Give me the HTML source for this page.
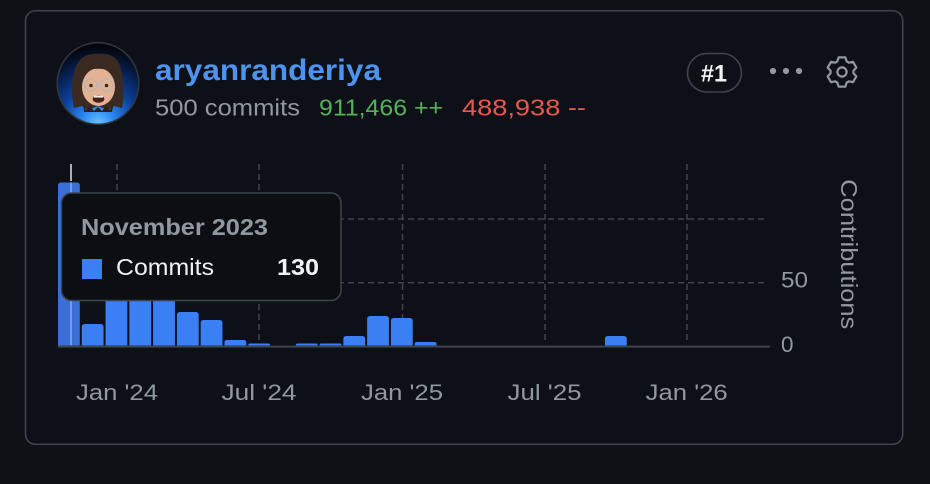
<!DOCTYPE html>
<html>
<head>
<meta charset="utf-8">
<style>
  html,body{margin:0;padding:0;background:#0e1116;}
  svg{display:block;}
  text{font-family:"Liberation Sans", "DejaVu Sans", sans-serif;}
</style>
</head>
<body>
<svg width="930" height="484" viewBox="0 0 930 484" xmlns="http://www.w3.org/2000/svg">
  <defs>
    <radialGradient id="av" cx="0.5" cy="1.0" r="0.95">
      <stop offset="0" stop-color="#6cc4ff"/>
      <stop offset="0.22" stop-color="#2a86f0"/>
      <stop offset="0.5" stop-color="#0d3f9a"/>
      <stop offset="0.8" stop-color="#061a44"/>
      <stop offset="1" stop-color="#03060e"/>
    </radialGradient>
    <clipPath id="avc"><circle cx="98" cy="83.5" r="40"/></clipPath>
  </defs>

  <rect x="0" y="0" width="930" height="484" fill="#0e1116"/>
  <!-- card -->
  <rect x="25.5" y="10.75" width="877.2" height="433.5" rx="10" fill="#0d1117" stroke="#3d444d" stroke-width="1.6"/>

  <!-- avatar -->
  <circle cx="98" cy="83.5" r="40.5" fill="url(#av)"/>
  <g clip-path="url(#avc)">
    <path d="M74 108 C70 90 72 66 82 58 C90 52 108 52 115 58 C124 66 125 90 122 108 L114 106 L108 110 L98 106 L88 110 L82 106 Z" fill="#3a2a22"/>
    <ellipse cx="98.5" cy="87" rx="16.5" ry="19" fill="#e2b293"/>
    <path d="M80 74 C84 62 112 60 117 74 C110 68 90 66 80 74 Z" fill="#3a2a22"/>
    <path d="M83 102 L86 110 L90 106 L94 111 L98 107 L102 111 L106 106 L110 110 L114 102 L112 112 L84 112 Z" fill="#2e2019"/>
    <circle cx="91" cy="85" r="6.2" fill="none" stroke="#bfb6ad" stroke-width="1.6"/>
    <circle cx="106.5" cy="85" r="6.2" fill="none" stroke="#bfb6ad" stroke-width="1.6"/>
    <line x1="97.2" y1="85" x2="100.3" y2="85" stroke="#bfb6ad" stroke-width="1.4"/>
    <circle cx="91" cy="85.5" r="1.8" fill="#3a2a22"/>
    <circle cx="106.5" cy="85.5" r="1.8" fill="#3a2a22"/>
    <ellipse cx="98.5" cy="99" rx="5.8" ry="3.8" fill="#4a1d18"/>
    <rect x="94" y="95.6" width="9" height="2" fill="#f3ece6"/>
  </g>
  <circle cx="98" cy="83.5" r="40.8" fill="none" stroke="#30363d" stroke-width="1.6"/>

  <!-- header text -->
  <text x="155" y="80" font-size="30" font-weight="bold" fill="#4d94f0" textLength="226" lengthAdjust="spacingAndGlyphs">aryanranderiya</text>
  <text x="155" y="115.5" font-size="23" fill="#9198a1" textLength="145" lengthAdjust="spacingAndGlyphs">500 commits</text>
  <text x="319" y="115.5" font-size="23" fill="#57b05c" textLength="124" lengthAdjust="spacingAndGlyphs">911,466 ++</text>
  <text x="462" y="115.5" font-size="23" fill="#e5594e" textLength="124" lengthAdjust="spacingAndGlyphs">488,938 --</text>

  <!-- pill -->
  <rect x="687.5" y="53.5" width="54" height="38.5" rx="19.25" fill="none" stroke="#3d444d" stroke-width="1.6"/>
  <text x="714" y="81.5" font-size="24" font-weight="bold" fill="#f0f3f6" text-anchor="middle" textLength="26" lengthAdjust="spacingAndGlyphs">#1</text>

  <!-- dots -->
  <circle cx="773" cy="71" r="3.1" fill="#9198a1"/>
  <circle cx="786" cy="71" r="3.1" fill="#9198a1"/>
  <circle cx="799" cy="71" r="3.1" fill="#9198a1"/>

  <!-- gear -->
  <path d="M837.32 61.49 L838.62 57.38 L845.38 57.38 L846.68 61.49 A11.5 11.5 0 0 1 848.76 62.70 L852.97 61.77 L856.34 67.61 L853.44 70.80 A11.5 11.5 0 0 1 853.44 73.20 L856.34 76.39 L852.97 82.23 L848.76 81.30 A11.5 11.5 0 0 1 846.68 82.51 L845.38 86.62 L838.62 86.62 L837.32 82.51 A11.5 11.5 0 0 1 835.24 81.30 L831.03 82.23 L827.66 76.39 L830.56 73.20 A11.5 11.5 0 0 1 830.56 70.80 L827.66 67.61 L831.03 61.77 L835.24 62.70 A11.5 11.5 0 0 1 837.32 61.49 Z" fill="none" stroke="#9198a1" stroke-width="2.2" stroke-linejoin="round"/>
  <circle cx="842" cy="72" r="4.6" fill="none" stroke="#9198a1" stroke-width="2.2"/>

  <!-- grid -->
  <g stroke="#3d444d" stroke-width="1.5" stroke-dasharray="6 4" fill="none">
    <line x1="117" y1="164" x2="117" y2="341"/>
    <line x1="259" y1="164" x2="259" y2="341"/>
    <line x1="402.5" y1="164" x2="402.5" y2="341"/>
    <line x1="545" y1="164" x2="545" y2="341"/>
    <line x1="687" y1="164" x2="687" y2="341"/>
    <line x1="58" y1="219" x2="766" y2="219"/>
    <line x1="58" y1="282.7" x2="766" y2="282.7"/>
  </g>

  <!-- bars -->
  <g fill="#3b7ff5">
    <path d="M81.78 345.5 V327 Q81.78 324 84.78 324 H100.58 Q103.58 324 103.58 327 V345.5 Z"/>
    <path d="M105.56 345.5 V263 Q105.56 260 108.56 260 H124.36 Q127.36 260 127.36 263 V345.5 Z"/>
    <path d="M129.34 345.5 V253 Q129.34 250 132.34 250 H148.14 Q151.14 250 151.14 253 V345.5 Z"/>
    <path d="M153.12 345.5 V268 Q153.12 265 156.12 265 H171.92 Q174.92 265 174.92 268 V345.5 Z"/>
    <path d="M176.9 345.5 V315 Q176.9 312 179.9 312 H195.7 Q198.7 312 198.7 315 V345.5 Z"/>
    <path d="M200.68 345.5 V323 Q200.68 320 203.68 320 H219.48 Q222.48 320 222.48 323 V345.5 Z"/>
    <path d="M224.46 345.5 V342.5 Q224.46 340 226.96 340 H243.76 Q246.26 340 246.26 342.5 V345.5 Z"/>
    <path d="M248.24 345.5 V345 Q248.24 343.5 249.74 343.5 H268.54 Q270.04 343.5 270.04 345 V345.5 Z"/>
    <path d="M295.8 345.5 V345 Q295.8 343.5 297.3 343.5 H316.1 Q317.6 343.5 317.6 345 V345.5 Z"/>
    <path d="M319.58 345.5 V345 Q319.58 343.5 321.08 343.5 H339.88 Q341.38 343.5 341.38 345 V345.5 Z"/>
    <path d="M343.36 345.5 V339 Q343.36 336 346.36 336 H362.16 Q365.16 336 365.16 339 V345.5 Z"/>
    <path d="M367.14 345.5 V319 Q367.14 316 370.14 316 H385.94 Q388.94 316 388.94 319 V345.5 Z"/>
    <path d="M390.92 345.5 V321 Q390.92 318 393.92 318 H409.72 Q412.72 318 412.72 321 V345.5 Z"/>
    <path d="M414.7 345.5 V344 Q414.7 342 416.7 342 H434.5 Q436.5 342 436.5 344 V345.5 Z"/>
    <path d="M604.94 345.5 V339 Q604.94 336 607.94 336 H623.74 Q626.74 336 626.74 339 V345.5 Z"/>
  </g>
  <!-- hovered bar -->
  <path d="M58 345.5 V185.5 Q58 182.5 61 182.5 H76.8 Q79.8 182.5 79.8 185.5 V345.5 Z" fill="#3a6fd6"/>
  <line x1="71" y1="182.5" x2="71" y2="345.5" stroke="#6c9ff0" stroke-width="2"/>
  <line x1="71" y1="164" x2="71" y2="181" stroke="#d0d7de" stroke-width="1.6"/>

  <!-- baseline -->
  <line x1="57.7" y1="346.6" x2="770" y2="346.6" stroke="#3d444d" stroke-width="2"/>

  <!-- y labels -->
  <text x="781" y="287.5" font-size="22" fill="#9198a1" textLength="27" lengthAdjust="spacingAndGlyphs">50</text>
  <text x="781" y="352" font-size="22" fill="#9198a1" textLength="12.5" lengthAdjust="spacingAndGlyphs">0</text>
  <text transform="translate(841,179.3) rotate(90)" font-size="23" fill="#9198a1" textLength="150" lengthAdjust="spacingAndGlyphs">Contributions</text>

  <!-- x labels -->
  <g font-size="22.5" fill="#9198a1" text-anchor="middle">
    <text x="117" y="400" textLength="82" lengthAdjust="spacingAndGlyphs">Jan '24</text>
    <text x="259" y="400" textLength="75" lengthAdjust="spacingAndGlyphs">Jul '24</text>
    <text x="402" y="400" textLength="82" lengthAdjust="spacingAndGlyphs">Jan '25</text>
    <text x="544.5" y="400" textLength="74" lengthAdjust="spacingAndGlyphs">Jul '25</text>
    <text x="686.7" y="400" textLength="82" lengthAdjust="spacingAndGlyphs">Jan '26</text>
  </g>

  <!-- tooltip -->
  <rect x="61.5" y="193" width="279.5" height="107.5" rx="10" fill="#0c0e13" stroke="#3d444d" stroke-width="1.5"/>
  <text x="81" y="235" font-size="23" font-weight="bold" fill="#9198a1" textLength="187" lengthAdjust="spacingAndGlyphs">November 2023</text>
  <rect x="82" y="259" width="20" height="20" fill="#3b7ff5"/>
  <text x="116" y="275" font-size="23" fill="#eef2f6" textLength="98" lengthAdjust="spacingAndGlyphs">Commits</text>
  <text x="319" y="275" font-size="23" font-weight="bold" fill="#f0f3f6" text-anchor="end" textLength="42" lengthAdjust="spacingAndGlyphs">130</text>
</svg>
</body>
</html>
